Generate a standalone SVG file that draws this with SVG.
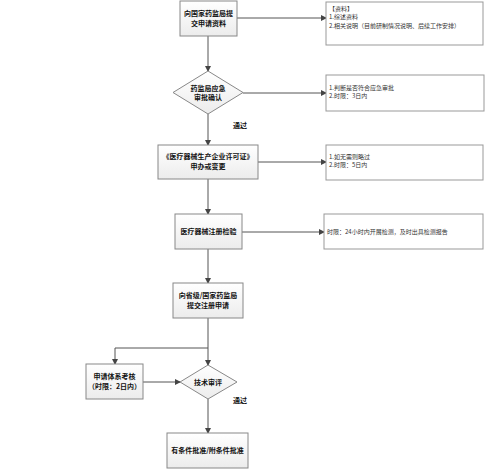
<svg xmlns="http://www.w3.org/2000/svg" width="501" height="470" viewBox="0 0 501 470">
<defs>
<linearGradient id="g" x1="0" y1="0" x2="0" y2="1"><stop offset="0" stop-color="#ffffff"/><stop offset="1" stop-color="#ececec"/></linearGradient>
<marker id="ah" markerWidth="6" markerHeight="6" refX="5" refY="3" orient="auto" markerUnits="userSpaceOnUse"><path d="M0,0 L6,3 L0,6 z" fill="#444"/></marker>
<style>
.n{fill:url(#g);stroke:#888;stroke-width:1}
.i{fill:#fff;stroke:#999;stroke-width:1}
.t{font-family:"Noto Sans CJK SC","Liberation Sans",sans-serif;font-size:7px;font-weight:bold;fill:#111;text-anchor:middle}
.s{font-family:"Noto Sans CJK SC","Liberation Serif",serif;font-size:6px;fill:#333}
.c{stroke:#555;stroke-width:1;fill:none}
</style>
</defs>
<rect width="501" height="470" fill="#fff"/>
<g id="connectors">
<path class="c" d="M208,36 V71" marker-end="url(#ah)"/>
<path class="c" d="M237,18 H326" marker-end="url(#ah)"/>
<path class="c" d="M243,93 H326" marker-end="url(#ah)"/>
<path class="c" d="M208,114 V145" marker-end="url(#ah)"/>
<path class="c" d="M258,162 H326" marker-end="url(#ah)"/>
<path class="c" d="M208,179 V214" marker-end="url(#ah)"/>
<path class="c" d="M242,232 H324" marker-end="url(#ah)"/>
<path class="c" d="M208,249 V283" marker-end="url(#ah)"/>
<path class="c" d="M208,318 V365" marker-end="url(#ah)"/>
<path class="c" d="M208,348 H115 V364" marker-end="url(#ah)"/>
<path class="c" d="M143,382 H180" marker-end="url(#ah)"/>
<path class="c" d="M208,399 V433" marker-end="url(#ah)"/>
<text class="t" x="240" y="128">通过</text>
<text class="t" x="240" y="403">通过</text>
</g>
<g id="n1"><rect class="n" x="180" y="1" width="57" height="35"/><text class="t" x="208.5" y="16">向国家药监局提</text><text class="t" x="208.5" y="26">交申请资料</text></g>
<g id="i1"><rect class="i" x="326" y="2" width="157" height="43"/><text class="s" x="329" y="11">【资料】</text><text class="s" x="329" y="19">1.综述资料</text><text class="s" x="329" y="28">2.相关说明（目前研制情况说明、后续工作安排）</text></g>
<g id="n2"><polygon class="n" points="208,71 243,92.5 208,114 173,92.5"/><text class="t" x="208" y="91">药监局应急</text><text class="t" x="208" y="100">审批确认</text></g>
<g id="i2"><rect class="i" x="326" y="75" width="158" height="36"/><text class="s" x="329" y="90">1.判断是否符合应急审批</text><text class="s" x="329" y="98">2.时限：3日内</text></g>
<g id="n3"><rect class="n" x="158" y="145" width="100" height="34"/><text class="t" x="208" y="159">《医疗器械生产企业许可证》</text><text class="t" x="208" y="169">申办或变更</text></g>
<g id="i3"><rect class="i" x="326" y="145" width="157" height="35"/><text class="s" x="329" y="159">1.如无需则略过</text><text class="s" x="329" y="167">2.时限：5日内</text></g>
<g id="n4"><rect class="n" x="175" y="214" width="67" height="35"/><text class="t" x="208.5" y="234">医疗器械注册检验</text></g>
<g id="i4"><rect class="i" x="324" y="214" width="159" height="35"/><text class="s" x="327" y="234">时限：24小时内开展检测，及时出具检测报告</text></g>
<g id="n5"><rect class="n" x="173" y="283" width="70" height="35"/><text class="t" x="208" y="298">向省级/国家药监局</text><text class="t" x="208" y="308">提交注册申请</text></g>
<g id="n6"><rect class="n" x="86" y="364" width="57" height="35"/><text class="t" x="114.5" y="379">申请体系考核</text><text class="t" x="114.5" y="389">（时限：2日内）</text></g>
<g id="n7"><polygon class="n" points="208,365 237,382 208,399 180,382"/><text class="t" x="208" y="385">技术审评</text></g>
<g id="n8"><rect class="n" x="167" y="433" width="81" height="35"/><text class="t" x="207.5" y="453">有条件批准/附条件批准</text></g>
</svg>
